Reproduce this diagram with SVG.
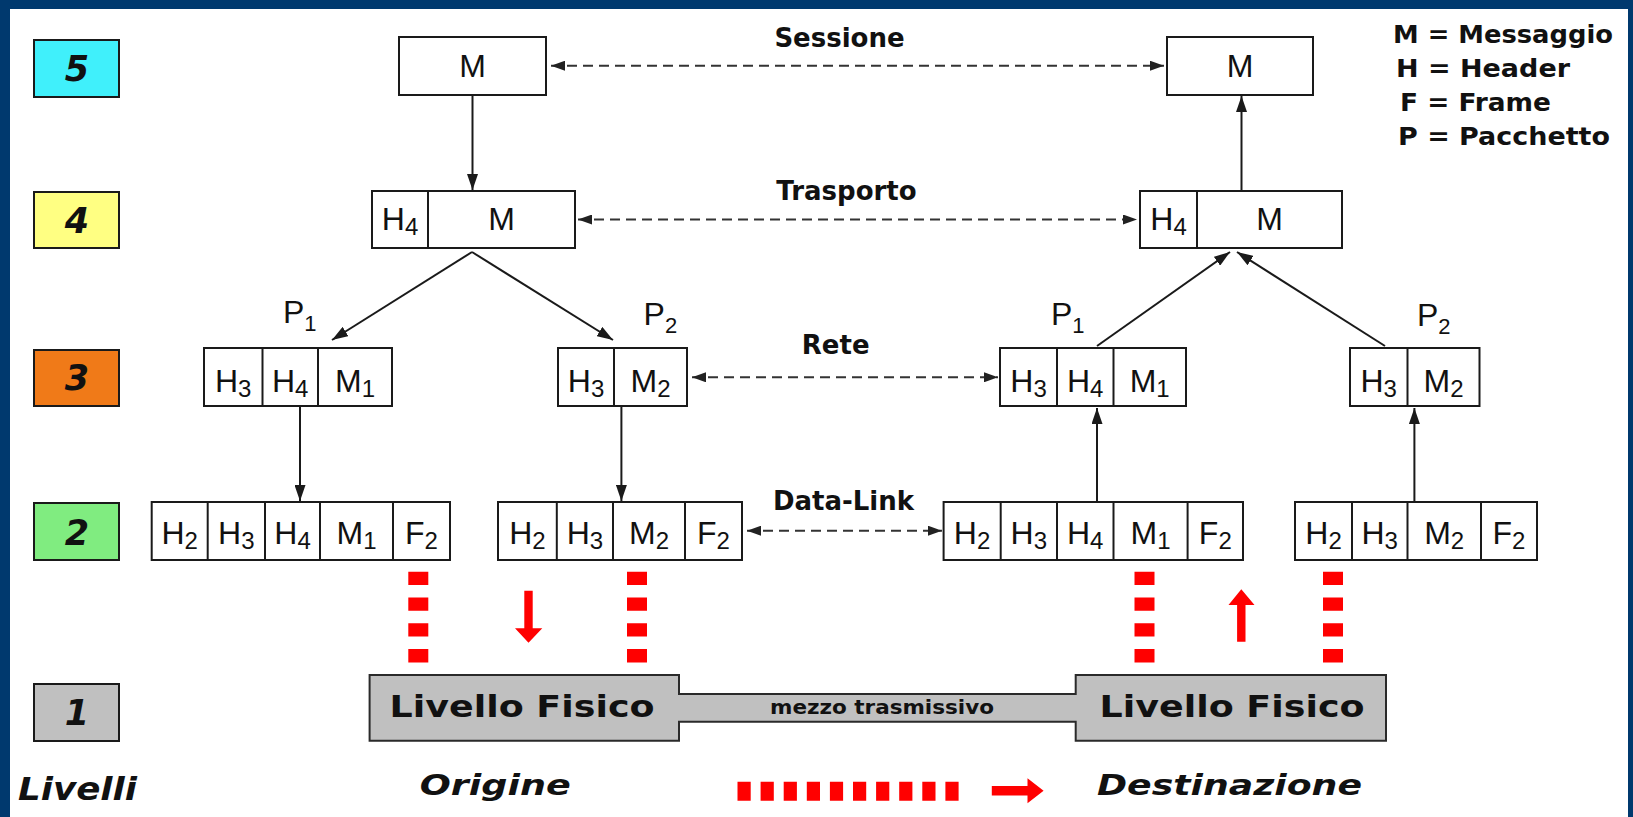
<svg xmlns="http://www.w3.org/2000/svg" width="1633" height="817" viewBox="0 0 1633 817">
<style>
.bx{fill:#fff;stroke:#1a1a1a;stroke-width:2}
.dv{stroke:#1a1a1a;stroke-width:2}
.c{font-family:"Liberation Sans",Arial,sans-serif;font-size:32px;fill:#111;text-anchor:middle}
.s{font-size:24px}
.p{font-family:"Liberation Sans",Arial,sans-serif;font-size:32px;fill:#111}
.ps{font-size:22px}
.lab{font-family:"DejaVu Sans",sans-serif;font-weight:bold;font-size:26px;fill:#111;text-anchor:middle}
.leg{font-family:"DejaVu Sans",sans-serif;font-weight:bold;font-size:25px;fill:#111}
.lvl{stroke:#1a1a1a;stroke-width:2}
.num{font-family:"DejaVu Sans",sans-serif;font-weight:bold;font-style:italic;font-size:35px;fill:#111;text-anchor:middle}
.big{font-family:"DejaVu Sans",sans-serif;font-weight:bold;fill:#111}
.arr{stroke:#1a1a1a;stroke-width:2;fill:none;marker-end:url(#ah)}
.dash{stroke:#333;stroke-width:2;fill:none;stroke-dasharray:10 6;marker-start:url(#dh);marker-end:url(#dh)}
.red{fill:#f00}
.rd{stroke:#f00;stroke-width:20;stroke-dasharray:13.3 12.5;fill:none}
</style>
<defs>
<marker id="ah" viewBox="0 0 16 11" refX="16" refY="5.5" markerWidth="16" markerHeight="11" orient="auto-start-reverse" markerUnits="userSpaceOnUse"><path d="M0,0 L16,5.5 L0,11 z" fill="#1a1a1a"/></marker>
<marker id="dh" viewBox="0 0 14 10" refX="14" refY="5" markerWidth="14" markerHeight="10" orient="auto-start-reverse" markerUnits="userSpaceOnUse"><path d="M0,0 L14,5 L0,10 z" fill="#222"/></marker>
</defs>

<rect x="0" y="0" width="1633" height="817" fill="#00396e"/>
<rect x="10" y="9" width="1618" height="808" fill="#fff"/>

<!-- level boxes -->
<g id="level5"><rect x="34" y="40" width="85" height="57" fill="#40f0fb" class="lvl"/><text x="77" y="81" class="num">5</text></g>
<g id="level4"><rect x="34" y="192" width="85" height="56" fill="#ffff82" class="lvl"/><text x="77" y="233" class="num">4</text></g>
<g id="level3"><rect x="34" y="350" width="85" height="56" fill="#f07a18" class="lvl"/><text x="77" y="390" class="num">3</text></g>
<g id="level2"><rect x="34" y="503" width="85" height="57" fill="#80ec80" class="lvl"/><text x="77" y="545" class="num">2</text></g>
<g id="level1"><rect x="34" y="684" width="85" height="57" fill="#c0c0c0" class="lvl"/><text x="77" y="725" class="num">1</text></g>
<g id="livelli"><text x="18" y="800" class="big" font-style="italic" font-size="32" textLength="119" lengthAdjust="spacingAndGlyphs">Livelli</text></g>

<!-- legend -->
<g id="legend">
<text x="1393" y="43" class="leg" textLength="220" lengthAdjust="spacingAndGlyphs">M = Messaggio</text>
<text x="1396" y="77" class="leg" textLength="174" lengthAdjust="spacingAndGlyphs">H = Header</text>
<text x="1400" y="111" class="leg" textLength="151" lengthAdjust="spacingAndGlyphs">F = Frame</text>
<text x="1398" y="145" class="leg" textLength="212" lengthAdjust="spacingAndGlyphs">P = Pacchetto</text>
</g>

<!-- layer labels -->
<g id="labels">
<text x="839.5" y="47" class="lab">Sessione</text>
<text x="846.5" y="199.5" class="lab">Trasporto</text>
<text x="835.7" y="354" class="lab">Rete</text>
<text x="843.5" y="510" class="lab">Data-Link</text>
</g>

<!-- session -->
<g id="sessL"><rect x="399" y="37" width="147" height="58" class="bx"/><text x="472.5" y="77" class="c">M</text></g>
<g id="sessR"><rect x="1167" y="37" width="146" height="58" class="bx"/><text x="1240" y="77" class="c">M</text></g>

<!-- transport -->
<g id="trL"><rect x="372" y="191" width="203" height="57" class="bx"/><line x1="428" y1="191" x2="428" y2="248" class="dv"/>
<text x="400" y="230" class="c">H<tspan class="s" dy="5">4</tspan></text><text x="501.5" y="230" class="c">M</text></g>
<g id="trR"><rect x="1140" y="191" width="202" height="57" class="bx"/><line x1="1197" y1="191" x2="1197" y2="248" class="dv"/>
<text x="1168.5" y="230" class="c">H<tspan class="s" dy="5">4</tspan></text><text x="1269.5" y="230" class="c">M</text></g>

<!-- packets -->
<g id="p1L"><text x="283" y="323" class="p">P<tspan class="ps" dy="8">1</tspan></text>
<rect x="204" y="348" width="188" height="58" class="bx"/><line x1="262.5" y1="348" x2="262.5" y2="406" class="dv"/><line x1="318" y1="348" x2="318" y2="406" class="dv"/>
<text x="233.2" y="391.5" class="c">H<tspan class="s" dy="5">3</tspan></text><text x="290.2" y="391.5" class="c">H<tspan class="s" dy="5">4</tspan></text><text x="355" y="391.5" class="c">M<tspan class="s" dy="5">1</tspan></text></g>
<g id="p2L"><text x="643.6" y="325" class="p">P<tspan class="ps" dy="8">2</tspan></text>
<rect x="558" y="348" width="129" height="58" class="bx"/><line x1="614" y1="348" x2="614" y2="406" class="dv"/>
<text x="586" y="391.5" class="c">H<tspan class="s" dy="5">3</tspan></text><text x="650.5" y="391.5" class="c">M<tspan class="s" dy="5">2</tspan></text></g>
<g id="p1R"><text x="1051" y="325" class="p">P<tspan class="ps" dy="8">1</tspan></text>
<rect x="1000" y="348" width="186" height="58" class="bx"/><line x1="1057" y1="348" x2="1057" y2="406" class="dv"/><line x1="1113.5" y1="348" x2="1113.5" y2="406" class="dv"/>
<text x="1028.5" y="391.5" class="c">H<tspan class="s" dy="5">3</tspan></text><text x="1085.2" y="391.5" class="c">H<tspan class="s" dy="5">4</tspan></text><text x="1149.7" y="391.5" class="c">M<tspan class="s" dy="5">1</tspan></text></g>
<g id="p2R"><text x="1417" y="326" class="p">P<tspan class="ps" dy="8">2</tspan></text>
<rect x="1350" y="348" width="129.5" height="58" class="bx"/><line x1="1407.5" y1="348" x2="1407.5" y2="406" class="dv"/>
<text x="1378.7" y="391.5" class="c">H<tspan class="s" dy="5">3</tspan></text><text x="1443.5" y="391.5" class="c">M<tspan class="s" dy="5">2</tspan></text></g>

<!-- frames -->
<g id="f1L"><rect x="151.7" y="502" width="298.3" height="58" class="bx"/>
<line x1="207.7" y1="502" x2="207.7" y2="560" class="dv"/><line x1="265" y1="502" x2="265" y2="560" class="dv"/><line x1="320" y1="502" x2="320" y2="560" class="dv"/><line x1="393" y1="502" x2="393" y2="560" class="dv"/>
<text x="179.7" y="544" class="c">H<tspan class="s" dy="5">2</tspan></text><text x="236.3" y="544" class="c">H<tspan class="s" dy="5">3</tspan></text><text x="292.5" y="544" class="c">H<tspan class="s" dy="5">4</tspan></text><text x="356.5" y="544" class="c">M<tspan class="s" dy="5">1</tspan></text><text x="421.5" y="544" class="c">F<tspan class="s" dy="5">2</tspan></text></g>
<g id="f2L"><rect x="498" y="502" width="244" height="58" class="bx"/>
<line x1="556.8" y1="502" x2="556.8" y2="560" class="dv"/><line x1="613" y1="502" x2="613" y2="560" class="dv"/><line x1="685" y1="502" x2="685" y2="560" class="dv"/>
<text x="527.4" y="544" class="c">H<tspan class="s" dy="5">2</tspan></text><text x="584.9" y="544" class="c">H<tspan class="s" dy="5">3</tspan></text><text x="649" y="544" class="c">M<tspan class="s" dy="5">2</tspan></text><text x="713.5" y="544" class="c">F<tspan class="s" dy="5">2</tspan></text></g>
<g id="f1R"><rect x="943.6" y="502" width="299.4" height="58" class="bx"/>
<line x1="1000.7" y1="502" x2="1000.7" y2="560" class="dv"/><line x1="1057" y1="502" x2="1057" y2="560" class="dv"/><line x1="1113.5" y1="502" x2="1113.5" y2="560" class="dv"/><line x1="1187.6" y1="502" x2="1187.6" y2="560" class="dv"/>
<text x="972.1" y="544" class="c">H<tspan class="s" dy="5">2</tspan></text><text x="1028.8" y="544" class="c">H<tspan class="s" dy="5">3</tspan></text><text x="1085.2" y="544" class="c">H<tspan class="s" dy="5">4</tspan></text><text x="1150.5" y="544" class="c">M<tspan class="s" dy="5">1</tspan></text><text x="1215.3" y="544" class="c">F<tspan class="s" dy="5">2</tspan></text></g>
<g id="f2R"><rect x="1295" y="502" width="242" height="58" class="bx"/>
<line x1="1352" y1="502" x2="1352" y2="560" class="dv"/><line x1="1407.5" y1="502" x2="1407.5" y2="560" class="dv"/><line x1="1481" y1="502" x2="1481" y2="560" class="dv"/>
<text x="1323.5" y="544" class="c">H<tspan class="s" dy="5">2</tspan></text><text x="1379.7" y="544" class="c">H<tspan class="s" dy="5">3</tspan></text><text x="1444.2" y="544" class="c">M<tspan class="s" dy="5">2</tspan></text><text x="1509" y="544" class="c">F<tspan class="s" dy="5">2</tspan></text></g>

<!-- physical layer -->
<g id="physical">
<path d="M369.6,675 H679 V694 H1075.7 V675 H1386 V740.7 H1075.7 V721.7 H679 V740.7 H369.6 Z" fill="#c0c0c0" stroke="#2a2a2a" stroke-width="2"/>
<text x="522" y="717" class="big" font-size="30" text-anchor="middle" textLength="265" lengthAdjust="spacingAndGlyphs">Livello Fisico</text>
<text x="1232" y="717" class="big" font-size="30" text-anchor="middle" textLength="265" lengthAdjust="spacingAndGlyphs">Livello Fisico</text>
<text x="882" y="714" class="big" font-size="19.5" text-anchor="middle" textLength="224" lengthAdjust="spacingAndGlyphs">mezzo trasmissivo</text>
</g>

<!-- bottom labels -->
<g id="origin"><text x="419.7" y="795" class="big" font-style="italic" font-size="29" textLength="151" lengthAdjust="spacingAndGlyphs">Origine</text></g>
<g id="dest"><text x="1097" y="795" class="big" font-style="italic" font-size="29" textLength="265" lengthAdjust="spacingAndGlyphs">Destinazione</text></g>

<!-- connectors -->
<g id="connectors">
<line x1="472.5" y1="95" x2="472.5" y2="190" class="arr"/>
<line x1="1241.5" y1="191" x2="1241.5" y2="96" class="arr"/>
<line x1="472" y1="252" x2="332" y2="340" class="arr"/>
<line x1="472" y1="252" x2="613" y2="340" class="arr"/>
<line x1="1097" y1="346" x2="1230" y2="252" class="arr"/>
<line x1="1385" y1="346" x2="1237" y2="252" class="arr"/>
<line x1="300" y1="406" x2="300" y2="501" class="arr"/>
<line x1="621.4" y1="406" x2="621.4" y2="501" class="arr"/>
<line x1="1097" y1="502" x2="1097" y2="408" class="arr"/>
<line x1="1414.4" y1="502" x2="1414.4" y2="408" class="arr"/>
<line x1="551" y1="65.7" x2="1164" y2="65.7" class="dash"/>
<line x1="578" y1="219.5" x2="1137" y2="219.5" class="dash"/>
<line x1="692" y1="377.3" x2="998" y2="377.3" class="dash"/>
<line x1="747" y1="530.7" x2="942" y2="530.7" class="dash"/>
</g>

<!-- red physical transmission marks -->
<g id="redmarks">
<line x1="418.3" y1="571.7" x2="418.3" y2="662.5" class="rd"/>
<line x1="637" y1="571.7" x2="637" y2="662.5" class="rd"/>
<line x1="1144.5" y1="571.7" x2="1144.5" y2="662.5" class="rd"/>
<line x1="1333" y1="571.7" x2="1333" y2="662.5" class="rd"/>
<path class="red" d="M524.3,590.7 H532.7 V628.3 H542.3 L528.5,642.7 L515,628.3 H524.3 Z"/>
<path class="red" d="M1241.3,589.3 L1254.5,605 H1245.5 V641.7 H1237.1 V605 H1228.5 Z"/>
<line x1="737.5" y1="791.2" x2="958.6" y2="791.2" stroke="#f00" stroke-width="19" stroke-dasharray="13.2 9.9"/>
<path class="red" d="M991.8,786 H1027.5 V778.3 L1043.6,790.7 L1027.5,803.3 V795.4 H991.8 Z"/>
</g>
</svg>
